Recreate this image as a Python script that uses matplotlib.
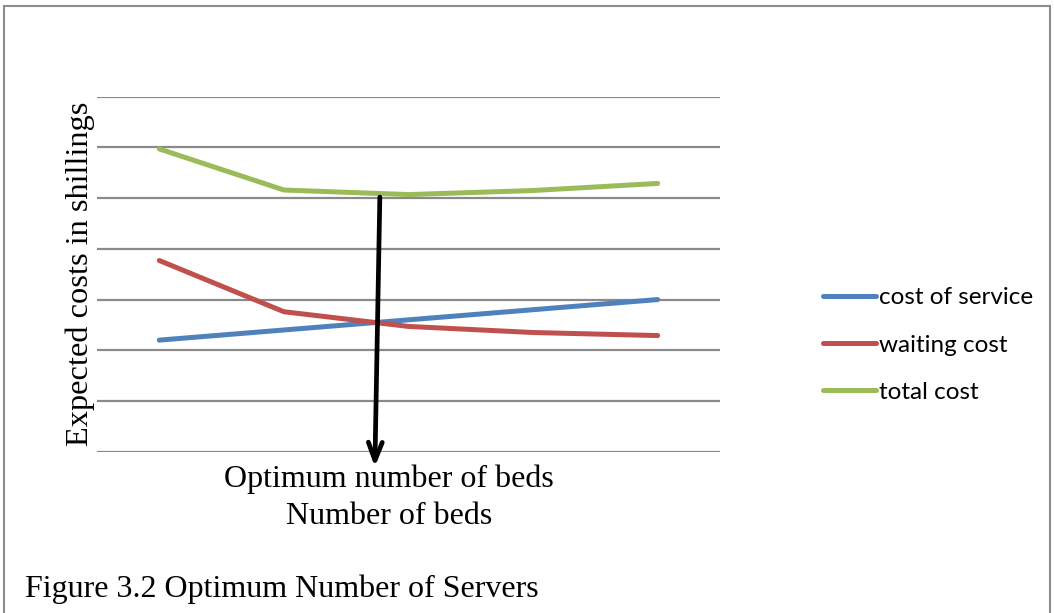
import matplotlib
matplotlib.use("Agg")
import matplotlib.pyplot as plt
from matplotlib.patches import Rectangle

# Expected costs for each number of beds (arbitrary shilling units)
beds = ["1", "2", "3", "4", "5"]
cost_of_service = [2.2, 2.4, 2.6, 2.8, 3.0]
waiting_cost = [3.77, 2.76, 2.47, 2.35, 2.29]
total_cost = [a + b for a, b in zip(cost_of_service, waiting_cost)]

series_names = ["cost of service", "waiting cost", "total cost"]
series_colors = ["#4F81BD", "#C0504D", "#9BBB59"]

fig = plt.figure(figsize=(10.54, 6.13), dpi=100)
fig.patch.set_facecolor("white")

# outer frame
fig.add_artist(Rectangle((4 / 1054, -0.05), 1046 / 1054, 1.05 - 6 / 613,
                         transform=fig.transFigure, fill=False,
                         edgecolor="#8c8c8c", linewidth=1.5))

ax = fig.add_axes([97 / 1054, 1 - 451.7 / 613, 623 / 1054, (451.7 - 96.7) / 613])
x = list(range(len(beds)))
for vals, name, col in zip([cost_of_service, waiting_cost, total_cost],
                           series_names, series_colors):
    ax.plot(x, vals, color=col, linewidth=3.6, label=name,
            solid_capstyle="round", zorder=3)

ax.set_xlim(-0.5, len(beds) - 0.5)
ax.set_ylim(0, 7)
ax.set_yticks(range(0, 8))
ax.set_xticks([])
ax.tick_params(left=False, labelleft=False)
ax.yaxis.grid(True, color="#8a8a8a", linewidth=1.6)
ax.set_axisbelow(True)
for s in ax.spines.values():
    s.set_visible(False)
ax.set_facecolor("none")

# arrow from the total-cost minimum down to the bed axis
ax.annotate("", xy=(1.73, -0.3), xytext=(1.77, 5.02),
            arrowprops=dict(arrowstyle="->,head_length=1.3,head_width=0.5",
                            color="black", linewidth=3.4,
                            shrinkA=0, shrinkB=0),
            annotation_clip=False, zorder=5)

serif = "Liberation Serif"
fig.text(80 / 1054, 1 - 274 / 613, "Expected costs in shillings", rotation=90,
         ha="center", va="center", family=serif, fontsize=23.3)
fig.text(389 / 1054, 1 - 479 / 613, "Optimum number of beds",
         ha="center", va="center", family=serif, fontsize=23)
fig.text(389 / 1054, 1 - 516 / 613, "Number of beds",
         ha="center", va="center", family=serif, fontsize=23)
fig.text(25 / 1054, 1 - 589 / 613, "Figure 3.2 Optimum Number of Servers",
         ha="left", va="center", family=serif, fontsize=23)

leg = ax.legend(loc="center left", bbox_to_anchor=(813 / 1054, 1 - 345 / 613),
                bbox_transform=fig.transFigure, frameon=False,
                prop={"family": "Lato", "size": 17.5}, handlelength=2.2,
                handletextpad=0.1, labelspacing=1.08, borderaxespad=0)
for line in leg.get_lines():
    line.set_linewidth(3.6)

fig.savefig("out.png", dpi=100, facecolor="white")
